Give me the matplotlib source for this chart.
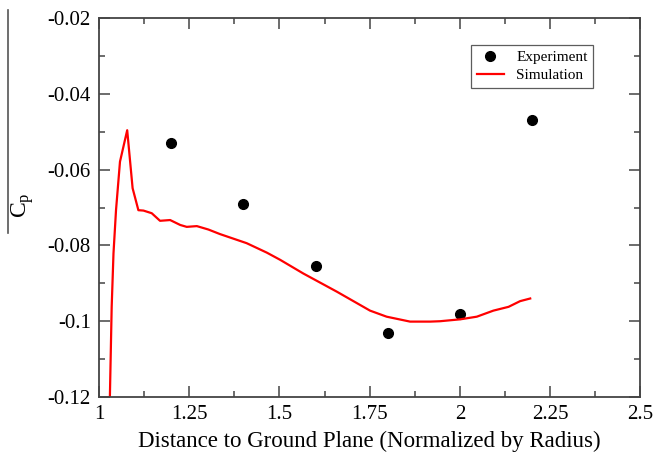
import matplotlib
matplotlib.use("Agg")
import matplotlib.pyplot as plt
from matplotlib.lines import Line2D
from matplotlib.ticker import MultipleLocator

plt.rcParams['font.family'] = ['Liberation Serif', 'DejaVu Serif']
plt.rcParams['mathtext.fontset'] = 'custom'
plt.rcParams['mathtext.rm'] = 'Liberation Serif'
plt.rcParams['mathtext.it'] = 'Liberation Serif'

# experimental points
exp_x = [1.2, 1.4, 1.6, 1.8, 2.0, 2.2]
exp_cp = [-0.053, -0.069, -0.0855, -0.103, -0.098, -0.047]

# simulation curve
sim_x = [1.030, 1.035, 1.040, 1.047, 1.058, 1.078, 1.093, 1.109, 1.123, 1.146,
         1.169, 1.197, 1.225, 1.243, 1.271, 1.303, 1.335, 1.409, 1.465, 1.502,
         1.566, 1.659, 1.751, 1.797, 1.862, 1.918, 1.945, 2.001, 2.047, 2.093,
         2.135, 2.167, 2.195]
sim_cp = [-0.1200, -0.0962, -0.0821, -0.0707, -0.0579, -0.0496, -0.0649, -0.0707,
          -0.0708, -0.0715, -0.0735, -0.0733, -0.0746, -0.0751, -0.0749, -0.0758,
          -0.0770, -0.0794, -0.0819, -0.0838, -0.0874, -0.0922, -0.0972, -0.0988,
          -0.1001, -0.1001, -0.1000, -0.0995, -0.0988, -0.0972, -0.0962, -0.0947,
          -0.0940]

fig = plt.figure(figsize=(6.56, 4.63), dpi=100)
ax = fig.add_axes([0.151, 0.1425, 0.825, 0.8185])

ax.plot(exp_x, exp_cp, 'o', color='black', markersize=7, label='Experiment')
ax.plot(sim_x, sim_cp, '-', color='#ff0000', linewidth=1.6, label='Simulation')

ax.set_xlim(1.0, 2.5)
ax.set_ylim(-0.12, -0.02)
ax.xaxis.set_minor_locator(MultipleLocator(0.125))
ax.yaxis.set_minor_locator(MultipleLocator(0.01))
ax.set_xticks([1.0, 1.25, 1.5, 1.75, 2.0, 2.25, 2.5])
ax.set_xticklabels(['1', '1.25', '1.5', '1.75', '2', '2.25', '2.5'])
ax.set_yticks([-0.12, -0.1, -0.08, -0.06, -0.04, -0.02])
ax.set_yticklabels(['-0.12', '-0.1', '-0.08', '-0.06', '-0.04', '-0.02'])

ax.tick_params(which='both', direction='in', top=True, right=True,
               color='#444444', labelsize=15)
ax.tick_params(which='major', length=8, width=1.1, pad=6)
ax.tick_params(which='minor', length=4.5, width=1.1)
for sp in ax.spines.values():
    sp.set_color('#444444')
    sp.set_linewidth(1.3)

ax.set_xlabel('Distance to Ground Plane (Normalized by Radius)', fontsize=16.5, labelpad=5)

# y label: C_p with a long overline drawn to its left
fig.text(0.034, 0.556, r'$\mathrm{C_p}$', rotation=90, fontsize=17,
         ha='center', va='center')
fig.add_artist(Line2D([0.0125, 0.0125], [1 - 233 / 463, 1 - 10 / 463],
                      transform=fig.transFigure, color='#555555', linewidth=1.2))

leg = ax.legend(loc='upper right', bbox_to_anchor=(0.913, 0.929), fontsize=11,
                frameon=True, fancybox=False, edgecolor='#333333',
                handlelength=1.8, borderpad=0.35, labelspacing=0.3,
                handletextpad=0.8, borderaxespad=0)
leg.get_frame().set_linewidth(0.9)

fig.savefig('out.png', dpi=100)
